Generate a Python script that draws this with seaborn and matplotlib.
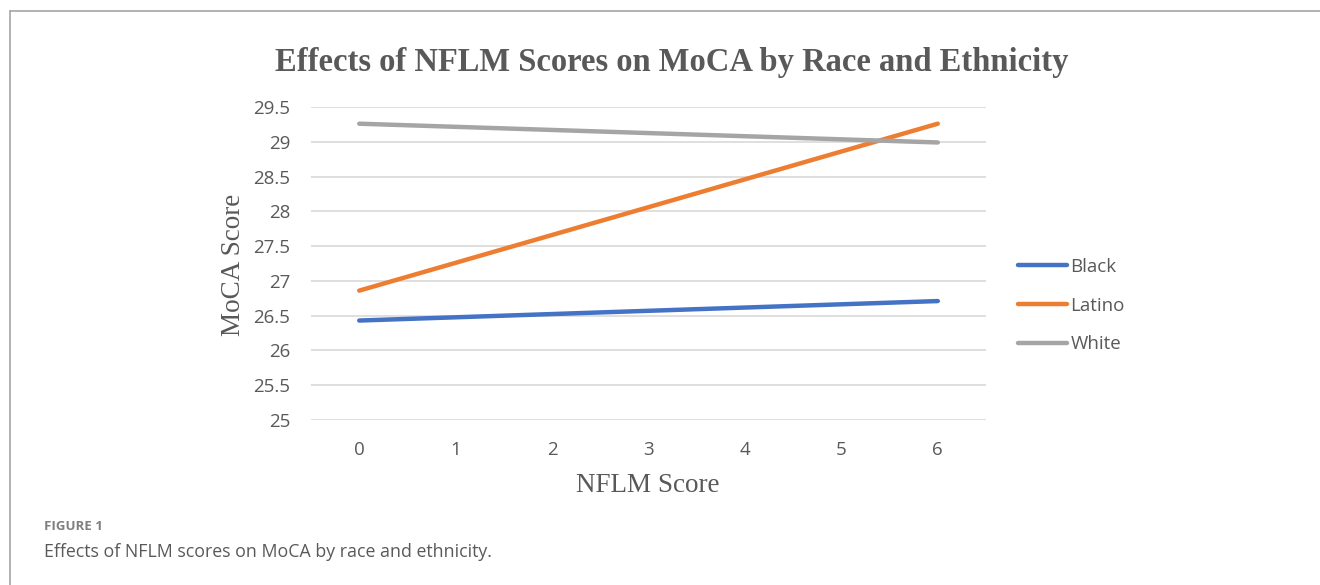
import pandas as pd
import seaborn as sns
import matplotlib.pyplot as plt
from matplotlib.lines import Line2D

# endpoints of each fitted line
nflm = [0, 6]
black = [26.43, 26.71]
latino = [26.86, 29.26]
white = [29.26, 28.99]
groups = ["Black", "Latino", "White"]
colors = ["#4472C4", "#ED7D31", "#A5A5A5"]
yticks = [25, 25.5, 26, 26.5, 27, 27.5, 28, 28.5, 29, 29.5]

df = pd.DataFrame({
    "NFLM": nflm * 3,
    "MoCA": black + latino + white,
    "Group": [g for g in groups for _ in nflm],
})

sns.set_theme(style="white")
plt.rcParams["font.family"] = ["Open Sans", "DejaVu Sans"]

fig = plt.figure(figsize=(13.2, 5.85), dpi=100)
ax = fig.add_axes([311 / 1320, 1 - 420 / 585, 675 / 1320, 313 / 585])

sns.lineplot(data=df, x="NFLM", y="MoCA", hue="Group", palette=colors,
             linewidth=3.2, ax=ax, legend=False, solid_capstyle="round")

ax.set_xlim(-0.5, 6.5)
ax.set_ylim(25, 29.5)
ax.set_xticks(range(7))
ax.set_yticks(yticks)
ax.set_yticklabels([f"{t:g}" for t in yticks])
ax.yaxis.grid(True, color="#D9D9D9", linewidth=1.2)
ax.set_axisbelow(True)
for s in ax.spines.values():
    s.set_visible(False)
ax.tick_params(axis="both", labelsize=13.5, colors="#595959", length=0)
ax.tick_params(axis="x", pad=15)
ax.tick_params(axis="y", pad=15)
ax.set_xlabel("")
ax.set_ylabel("")

serif = ["Liberation Serif", "DejaVu Serif"]
fig.text(672 / 1320, 1 - 62 / 585, "Effects of NFLM Scores on MoCA by Race and Ethnicity",
         ha="center", va="center", fontsize=23.5, fontweight="bold", color="#595959", family=serif)
fig.text(233 / 1320, 1 - 265 / 585, "MoCA Score", rotation=90, ha="center", va="center",
         fontsize=19.5, color="#595959", family=serif)
fig.text(648 / 1320, 1 - 485 / 585, "NFLM Score", ha="center", va="center",
         fontsize=19.5, color="#595959", family=serif)

handles = [Line2D([], [], color=c, linewidth=3.2, solid_capstyle="round") for c in colors]
fig.legend(handles, groups, loc="upper left", bbox_to_anchor=(1018 / 1320, 1 - 258 / 585),
           frameon=False, fontsize=13.5, labelcolor="#595959", handlelength=2.6,
           handletextpad=0.2, labelspacing=1.1, borderaxespad=0, borderpad=0)

# caption below the chart
fig.text(44 / 1320, 1 - 527 / 585, "FIGURE 1", ha="left", va="center",
         fontsize=9.5, fontweight="bold", color="#7F7F7F")
fig.text(44 / 1320, 1 - 552 / 585, "Effects of NFLM scores on MoCA by race and ethnicity.",
         ha="left", va="center", fontsize=12.8, color="#595959")

# frame around the figure panel (top and left edges)
fig.add_artist(Line2D([10 / 1320, 1], [1 - 11 / 585] * 2, color="#A6A6A6", linewidth=1.2))
fig.add_artist(Line2D([10 / 1320] * 2, [0, 1 - 11 / 585], color="#A6A6A6", linewidth=1.2))

fig.savefig("out.png", dpi=100)
